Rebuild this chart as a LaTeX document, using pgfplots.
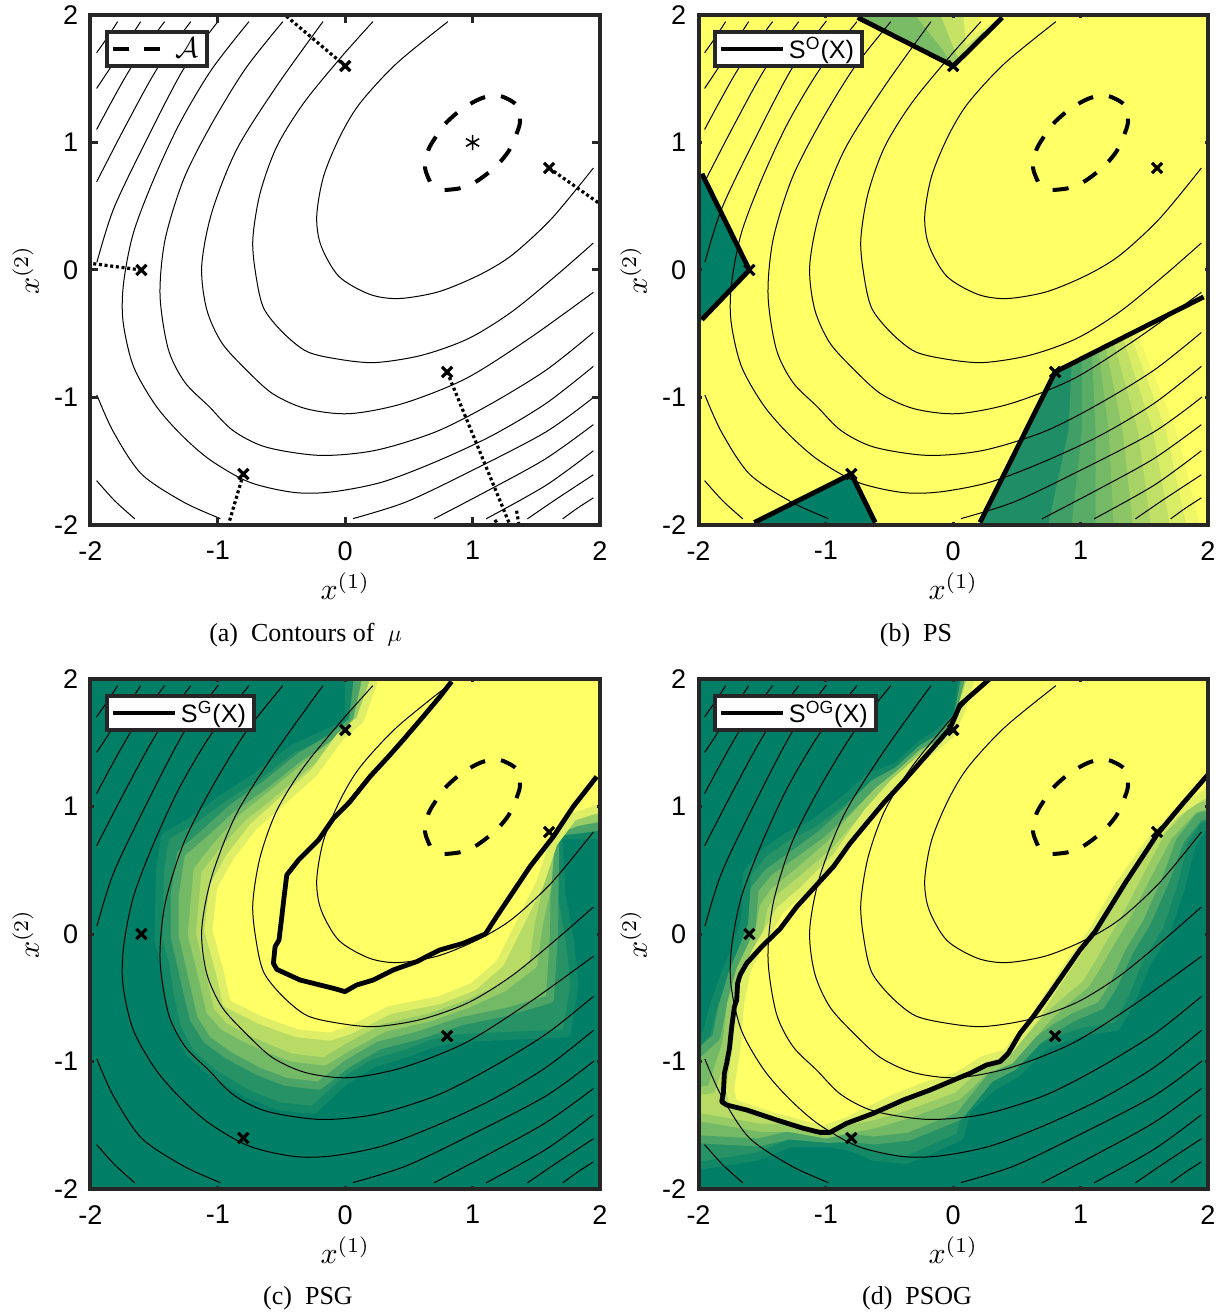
\documentclass[border=0pt]{standalone}
\usepackage[no-math]{fontspec}
\setmainfont{Liberation Serif}
\newfontfamily\helv{Liberation Sans}
\usepackage{pgfplots}
\pgfplotsset{compat=1.18}

\definecolor{gr}{HTML}{007F66}
\definecolor{yl}{HTML}{FFFF66}
\definecolor{frame}{HTML}{262626}

\pgfplotsset{
  panel/.style={
    scale only axis, width=254.75pt, height=255pt, anchor=south west,
    xmin=-2, xmax=2, ymin=-2, ymax=2,
    xtick={-2,-1,0,1,2}, ytick={-2,-1,0,1,2},
    xticklabels={-2,-1,0,1,2}, yticklabels={-2,-1,0,1,2},
    axis on top,
    tick align=inside,
    axis line style={line width=2pt, frame},
    tick style={line width=1.5pt, frame},
    major tick length=1.6pt,
    tick label style={font=\helv\fontsize{13.5}{16}\selectfont, inner sep=0pt},
    xticklabel shift=8pt, yticklabel shift=6pt,
    xlabel={$x^{(1)}$}, ylabel={$x^{(2)}$},
    xlabel style={at={(axis description cs:0.5,-0.092)}, anchor=north, scale=1.5, inner sep=0pt},
    ylabel style={at={(axis description cs:-0.1,0.5)}, anchor=south, scale=1.5, inner sep=0pt},
    legend style={at={(0.0284,0.9706)}, anchor=north west, fill=white, draw=frame,
      line width=2pt, inner xsep=2pt, inner ysep=0.5pt,
      font=\helv\fontsize{12.6}{14}\selectfont},
    legend cell align=left,
  },
  cont/.style={black, line width=0.5pt, smooth, tension=0.5},
  sline/.style={black, line width=2.4pt, line join=round},
  dotl/.style={black, line width=1.6pt, dash pattern=on 1.5pt off 1.35pt},
  hb/.style={fill=#1, draw=none},
  heat/.style 2 args={fill=#1, draw=#2, line width=4pt, line join=round},
  lgshort/.style={legend image code/.code={\draw[##1] (0pt,0pt) -- (23.5pt,0pt);}},
  lglong/.style={legend image code/.code={\draw[##1] (0pt,0pt) -- (31pt,0pt);}},
}

\newcommand{\lgstrut}{\rule[-3pt]{0pt}{13.5pt}}
\newcommand{\contours}{
  \addplot[cont] coordinates {(-1.952,1.704) (-1.87,1.82) (-1.787,1.948)};
  \addplot[cont] coordinates {(-1.952,1.424) (-1.795,1.66) (-1.606,1.948)};
  \addplot[cont] coordinates {(-1.952,1.102) (-1.69,1.574) (-1.418,1.948)};
  \addplot[cont] coordinates {(-1.952,0.691) (-1.73,1.12) (-1.48,1.574) (-1.213,1.948)};
  \addplot[cont] coordinates {(-1.95,0.06) (-1.82,0.476) (-1.58,0.98) (-1.271,1.574) (-0.996,1.953)};
  \addplot[cont] coordinates {(1.707,-1.952) (1.82,-1.87) (1.948,-1.787)};
  \addplot[cont] coordinates {(1.43,-1.952) (1.66,-1.795) (1.948,-1.606)};
  \addplot[cont] coordinates {(1.105,-1.952) (1.574,-1.69) (1.948,-1.418)};
  \addplot[cont] coordinates {(0.696,-1.952) (1.12,-1.73) (1.574,-1.48) (1.948,-1.213)};
  \addplot[cont] coordinates {(0.06,-1.95) (0.476,-1.82) (0.98,-1.58) (1.574,-1.271) (1.953,-0.996)};
  \addplot[cont] coordinates {(-1.952,-1.652) (-1.81,-1.81) (-1.652,-1.952)};
  \addplot[cont] coordinates {(-1.95,-0.98) (-1.82,-1.27) (-1.6,-1.6) (-1.27,-1.82) (-0.98,-1.95)};
  \addplot[cont] coordinates {(-0.756,1.948) (-1.048,1.574) (-1.3,1.15) (-1.506,0.706) (-1.664,0.288)
    (-1.74,-0.1) (-1.745,-0.4) (-1.664,-0.753) (-1.49,-1.06) (-1.29,-1.29) (-1.06,-1.49)
    (-0.753,-1.664) (-0.4,-1.745) (-0.1,-1.74) (0.288,-1.664) (0.706,-1.506) (1.15,-1.3)
    (1.574,-1.048) (1.948,-0.756)};
  \addplot[cont] coordinates {(-0.49,1.948) (-0.787,1.574) (-1.061,1.124) (-1.271,0.706) (-1.415,0.235)
    (-1.454,-0.2) (-1.389,-0.622) (-1.26,-0.88) (-1.07,-1.07) (-0.88,-1.26) (-0.622,-1.389)
    (-0.2,-1.454) (0.235,-1.415) (0.706,-1.271) (1.124,-1.061) (1.574,-0.787) (1.948,-0.49)};
  \addplot[cont] coordinates {(-0.175,1.948) (-0.538,1.443) (-0.852,0.946) (-1.048,0.45) (-1.127,0.03)
    (-1.088,-0.308) (-0.97,-0.57) (-0.78,-0.78) (-0.57,-0.97) (-0.308,-1.088) (0.03,-1.127)
    (0.45,-1.048) (0.946,-0.852) (1.443,-0.538) (1.948,-0.175)};
  \addplot[cont] coordinates {(0.217,1.948) (-0.04,1.66) (-0.328,1.307) (-0.538,0.967) (-0.669,0.6)
    (-0.726,0.235) (-0.70,-0.05) (-0.64,-0.3) (-0.49,-0.49) (-0.3,-0.64) (-0.05,-0.70)
    (0.235,-0.726) (0.6,-0.669) (0.967,-0.538) (1.307,-0.328) (1.66,-0.04) (1.948,0.212)};
  \addplot[cont] coordinates {(0.806,1.948) (0.403,1.62) (0.115,1.307) (-0.042,1.046) (-0.171,0.732)
    (-0.224,0.42) (-0.19,0.19) (-0.05,-0.05) (0.19,-0.19) (0.42,-0.224) (0.732,-0.171)
    (1.046,-0.042) (1.307,0.115) (1.62,0.403) (1.948,0.80)};
}
\newcommand{\ellipseA}{
  \addplot[black, line width=2pt, dash pattern=on 8.05pt off 8.05pt, smooth, tension=0.5] coordinates {
    (0.665,0.693) (0.626,0.803) (0.652,0.941) (0.712,1.046) (0.783,1.145) (0.874,1.229)
    (0.974,1.299) (1.084,1.352) (1.209,1.367) (1.345,1.294) (1.372,1.163) (1.338,1.051)
    (1.285,0.936) (1.207,0.837) (1.118,0.758) (1.013,0.685) (0.895,0.64) (0.777,0.627)};
}
\newcommand{\crosses}{
  \addplot[only marks, mark=x, mark size=3.6pt, mark options={black, line width=1.6pt}] coordinates {
    (0,1.6) (1.6,0.8) (-1.6,0) (0.8,-0.8) (-0.8,-1.6)};
}

\begin{document}
\begin{tikzpicture}
\path[use as bounding box] (0,0) rectangle (614.5pt,656.5pt);

% (a)
\begin{axis}[panel, at={(45.25pt,394pt)}, lgshort, major tick length=3.8pt]
  \addlegendimage{black, line width=2pt, dash pattern=on 8pt off 7.5pt}
  \addlegendentry{\lgstrut\hspace{5pt}\fontsize{14.4}{16}\selectfont$\mathcal{A}$}
  \contours
  \ellipseA
  \addplot[only marks, mark=asterisk, mark size=3.8pt, mark options={black, line width=0.8pt}] coordinates {(1,1)};
  \addplot[dotl] coordinates {(0,1.6) (-0.473,2)};
  \addplot[dotl] coordinates {(1.6,0.8) (2,0.518)};
  \addplot[dotl] coordinates {(-1.6,0) (-2,0.052)};
  \addplot[dotl] coordinates {(0.8,-0.8) (1.293,-2)};
  \addplot[dotl] coordinates {(-0.8,-1.6) (-0.918,-2)};
  \addplot[dotl] coordinates {(1.345,-1.888) (1.364,-2)};
  \addplot[dotl] coordinates {(1.175,-1.96) (1.2,-2)};
  \crosses
\end{axis}

% (b)
\begin{axis}[panel, at={(349.25pt,394pt)}, lglong]
  \addlegendimage{black, line width=2pt}
  \addlegendentry{\lgstrut S\textsuperscript{O}(X)}
  \addplot[hb=yl] coordinates {(-2,-2) (2,-2) (2,2) (-2,2)} -- cycle;
  \addplot[hb=gr] coordinates {(-2,0.8) (-1.6,0) (-2,-0.42)} -- cycle;
  \addplot[hb=gr] coordinates {(-1.6,-2) (-0.8,-1.6) (-0.6,-2)} -- cycle;
  % top wedge
  \addplot[hb=gr!52!yl] coordinates {(-0.78,2) (0,1.6) (0.4,2)} -- cycle;
  \addplot[hb=gr!38!yl] coordinates {(-0.3,2) (-0.1,1.75) (0,1.6) (0.4,2)} -- cycle;
  \addplot[hb=gr!22!yl] coordinates {(-0.1,2) (0.02,1.7) (0.05,1.65) (0.4,2)} -- cycle;
  \addplot[hb=gr!9!yl] coordinates {(0.08,2) (0.1,1.76) (0.4,2)} -- cycle;
  \addplot[hb=yl] coordinates {(0.2,2) (0.17,1.85) (0.4,2)} -- cycle;
  % lower right
  \addplot[hb=gr!88!yl] coordinates {(0.2,-2) (0.8,-0.8) (2,-0.2) (2,-2)} -- cycle;
  \addplot[hb=gr!75!yl] coordinates {(0.745,-2) (0.905,-1.26) (0.93,-0.734) (2,-0.2) (2,-2)} -- cycle;
  \addplot[hb=gr!65!yl] coordinates {(0.93,-2) (1.01,-1.26) (1.01,-0.694) (2,-0.2) (2,-2)} -- cycle;
  \addplot[hb=gr!55!yl] coordinates {(1.117,-2) (1.117,-1.26) (1.09,-0.654) (2,-0.2) (2,-2)} -- cycle;
  \addplot[hb=gr!45!yl] coordinates {(1.26,-2) (1.22,-1.26) (1.14,-0.628) (2,-0.2) (2,-2)} -- cycle;
  \addplot[hb=gr!35!yl] coordinates {(1.41,-2) (1.33,-1.26) (1.196,-0.60) (2,-0.2) (2,-2)} -- cycle;
  \addplot[hb=gr!25!yl] coordinates {(1.55,-2) (1.45,-1.26) (1.26,-0.568) (2,-0.2) (2,-2)} -- cycle;
  \addplot[hb=gr!15!yl] coordinates {(1.70,-2) (1.567,-1.26) (1.33,-0.532) (2,-0.2) (2,-2)} -- cycle;
  \addplot[hb=gr!6!yl] coordinates {(1.83,-2) (1.67,-1.26) (1.39,-0.50) (2,-0.2) (2,-2)} -- cycle;
  \addplot[hb=yl] coordinates {(1.94,-2) (1.753,-1.26) (1.435,-0.479) (2,-0.2) (2,-2)} -- cycle;
  \contours
  \ellipseA
  \addplot[sline] coordinates {(-0.75,1.98) (0,1.6) (0.385,1.98)};
  \addplot[sline] coordinates {(-1.973,0.755) (-1.6,0) (-1.973,-0.389)};
  \addplot[sline] coordinates {(-1.562,-1.98) (-0.8,-1.6) (-0.613,-1.98)};
  \addplot[sline] coordinates {(0.21,-1.98) (0.8,-0.8) (1.966,-0.211)};
  \crosses
\end{axis}

% (c)
\begin{axis}[panel, at={(45.25pt,62pt)}, lglong]
  \addlegendimage{black, line width=2pt}
  \addlegendentry{\lgstrut S\textsuperscript{G}(X)}
  \addplot[hb=gr] coordinates {(-2,-2) (2,-2) (2,2) (-2,2)} -- cycle;
  \addplot[heat={gr!85!yl}{gr!93!yl}] coordinates {(0.03,2.2) (0.03,1.66) (-0.145,1.574) (-0.407,1.456) (-0.695,1.234)
    (-0.983,1.051) (-1.192,0.894) (-1.415,0.763) (-1.454,0.502) (-1.467,-0.047) (-1.415,-0.23)
    (-1.376,-0.49) (-1.323,-0.727) (-1.219,-0.936) (-1.035,-1.093) (-0.774,-1.25) (-0.512,-1.354)
    (-0.25,-1.38) (0,-1.15) (0.22,-1.014) (0.482,-0.936) (0.69,-0.857) (0.874,-0.818) (1.738,-0.779)
    (1.8,-0.4) (1.764,-0.05) (1.70,0.3) (1.673,0.776) (2.2,0.776) (2.2,2.2)} -- cycle;
  \addplot[heat={gr!55!yl}{gr!70!yl}] coordinates {(0.12,2.2) (0.06,1.67) (-0.12,1.53) (-0.355,1.39) (-0.625,1.173)
    (-0.896,0.981) (-1.096,0.798) (-1.29,0.63) (-1.34,0.3) (-1.34,-0.02) (-1.245,-0.43)
    (-1.19,-0.665) (-1.086,-0.83) (-0.913,-0.954) (-0.683,-1.077) (-0.468,-1.16) (-0.206,-1.19)
    (0.013,-1.02) (0.263,-0.875) (0.569,-0.797) (0.918,-0.683) (1.27,-0.61) (1.607,-0.51)
    (1.64,0.01) (1.643,0.33) (1.65,0.80) (1.83,0.82) (2.2,0.87) (2.2,2.2)} -- cycle;
  \addplot[heat={gr!28!yl}{gr!41!yl}] coordinates {(0.21,2.2) (0.09,1.67) (-0.08,1.5) (-0.30,1.325) (-0.556,1.112)
    (-0.808,0.912) (-1.0,0.703) (-1.16,0.50) (-1.205,0.0) (-1.114,-0.37) (-1.06,-0.605)
    (-0.953,-0.725) (-0.791,-0.814) (-0.591,-0.903) (-0.424,-0.97) (-0.163,-1.0) (0.025,-0.885)
    (0.307,-0.735) (0.656,-0.657) (0.961,-0.548) (1.243,-0.42) (1.476,-0.24) (1.52,0.08)
    (1.586,0.365) (1.62,0.8) (1.81,0.875) (2.2,0.96) (2.2,2.2)} -- cycle;
  \addplot[heat={yl}{gr!13!yl}] coordinates {(0.3,2.2) (0.115,1.678) (-0.04,1.548) (-0.25,1.26) (-0.486,1.051)
    (-0.721,0.842) (-0.904,0.607) (-1.035,0.371) (-1.075,0.031) (-0.983,-0.308) (-0.93,-0.544)
    (-0.669,-0.675) (-0.38,-0.779) (-0.119,-0.805) (0.038,-0.753) (0.35,-0.596) (0.743,-0.518)
    (1.005,-0.413) (1.215,-0.23) (1.345,0.03) (1.529,0.397) (1.633,0.711) (1.79,0.92) (2.2,1.05)
    (2.2,2.2)} -- cycle;
  \contours
  \ellipseA
  \addplot[sline] coordinates {(0.835,1.98) (0.743,1.861) (0.612,1.705) (0.455,1.522) (0.338,1.39)
    (0.194,1.234) (0.037,1.038) (-0.093,0.907) (-0.21,0.737) (-0.367,0.58) (-0.459,0.463)
    (-0.48,0.293) (-0.498,0.136) (-0.52,-0.047) (-0.551,-0.1) (-0.564,-0.23) (-0.538,-0.277)
    (-0.355,-0.361) (-0.093,-0.426) (-0.002,-0.452) (0.089,-0.4) (0.22,-0.361) (0.377,-0.282)
    (0.56,-0.217) (0.743,-0.125) (0.926,-0.073) (1.1,0) (1.188,0.136) (1.293,0.293) (1.45,0.528)
    (1.633,0.763) (1.79,0.999) (1.974,1.234)};
  \crosses
\end{axis}

% (d)
\begin{axis}[panel, at={(349.25pt,62pt)}, lglong]
  \addlegendimage{black, line width=2pt}
  \addlegendentry{\lgstrut S\textsuperscript{OG}(X)}
  \addplot[hb=gr] coordinates {(-2,-2) (2,-2) (2,2) (-2,2)} -- cycle;
  \addplot[heat={gr!85!yl}{gr!93!yl}] coordinates {(0.1,2.2) (0.03,1.72) (0,1.68) (-0.117,1.574) (-0.26,1.482)
    (-0.444,1.312) (-0.653,1.234) (-0.889,1.025) (-1.098,0.868) (-1.308,0.763) (-1.49,0.633)
    (-1.62,0.476) (-1.635,0.11) (-1.70,-0.1) (-1.79,-0.31) (-1.883,-0.57) (-1.936,-0.78) (-2.2,-1.05)
    (-2.2,-1.85) (-1.543,-1.746) (-1.281,-1.642) (-0.967,-1.642) (-0.81,-1.668) (-0.627,-1.746)
    (-0.365,-1.773) (0.053,-1.59) (0.105,-1.38) (0.314,-1.197) (0.498,-1.093) (0.707,-0.884)
    (0.864,-0.818) (1.021,-0.766) (1.283,-0.727) (1.388,-0.544) (1.518,-0.23) (1.676,0.03)
    (1.79,0.37) (1.87,0.70) (1.97,0.85) (2.2,0.85) (2.2,2.2)} -- cycle;
  \addplot[heat={gr!55!yl}{gr!70!yl}] coordinates {(0.13,2.2) (0.03,1.68) (-0.12,1.53) (-0.25,1.45) (-0.436,1.28)
    (-0.62,1.18) (-0.84,0.96) (-1.04,0.78) (-1.26,0.62) (-1.45,0.485) (-1.56,0.35) (-1.58,0.07)
    (-1.65,-0.11) (-1.73,-0.30) (-1.81,-0.56) (-1.86,-0.81) (-2.2,-1.12) (-2.2,-1.6) (-1.53,-1.635)
    (-1.29,-1.58) (-0.985,-1.607) (-0.81,-1.6) (-0.62,-1.62) (-0.35,-1.59) (0.045,-1.43)
    (0.29,-1.13) (0.47,-1.04) (0.67,-0.83) (0.81,-0.73) (0.95,-0.65) (1.16,-0.56) (1.26,-0.4)
    (1.38,-0.14) (1.52,0.09) (1.67,0.43) (1.78,0.73) (1.93,0.92) (2.2,0.97) (2.2,2.2)} -- cycle;
  \addplot[heat={gr!28!yl}{gr!41!yl}] coordinates {(0.17,2.2) (0.04,1.65) (-0.08,1.5) (-0.24,1.42) (-0.428,1.25)
    (-0.585,1.125) (-0.795,0.90) (-0.975,0.695) (-1.22,0.485) (-1.405,0.335) (-1.49,0.21) (-1.52,0.04)
    (-1.595,-0.12) (-1.675,-0.29) (-1.745,-0.55) (-1.78,-0.85) (-1.9,-1.22) (-2.2,-1.25) (-2.2,-1.4)
    (-1.515,-1.52) (-1.295,-1.52) (-1.0,-1.572) (-0.81,-1.53) (-0.61,-1.49) (-0.34,-1.41)
    (0.036,-1.27) (0.26,-1.06) (0.445,-0.99) (0.635,-0.775) (0.755,-0.64) (0.875,-0.53) (1.04,-0.395)
    (1.13,-0.25) (1.24,-0.06) (1.36,0.14) (1.54,0.49) (1.69,0.77) (1.89,0.98) (2.2,1.08) (2.2,2.2)} -- cycle;
  \addplot[heat={yl}{gr!13!yl}] coordinates {(0.2,2.2) (0.06,1.75) (-0.025,1.56) (-0.234,1.39) (-0.47,1.182)
    (-0.68,0.946) (-0.915,0.607) (-1.176,0.345) (-1.36,0.188) (-1.465,0.005) (-1.543,-0.125)
    (-1.62,-0.282) (-1.674,-0.544) (-1.70,-0.884) (-1.753,-1.224) (-1.726,-1.328) (-1.412,-1.433)
    (-1.02,-1.537) (-0.81,-1.459) (-0.496,-1.302) (-0.234,-1.197) (0.028,-1.119) (0.236,-0.988)
    (0.419,-0.936) (0.628,-0.675) (0.76,-0.465) (0.916,-0.23) (1.1,0.03) (1.3,0.38) (1.55,0.73)
    (1.75,0.95) (2.2,1.25) (2.2,2.2)} -- cycle;
  \contours
  \ellipseA
  \addplot[sline] coordinates {(0.285,2) (0.053,1.796) (-0.025,1.613) (-0.392,1.195) (-0.549,1.025)
    (-0.68,0.868) (-0.81,0.711) (-0.941,0.528) (-1.085,0.371) (-1.229,0.214) (-1.36,0.04) (-1.504,-0.1)
    (-1.622,-0.23) (-1.674,-0.322) (-1.693,-0.387) (-1.70,-0.518) (-1.718,-0.57) (-1.739,-0.727)
    (-1.757,-0.897) (-1.779,-1.014) (-1.797,-1.093) (-1.805,-1.25) (-1.818,-1.315) (-1.779,-1.341)
    (-1.622,-1.38) (-1.386,-1.459) (-1.177,-1.524) (-1.046,-1.556) (-0.968,-1.556) (-0.837,-1.485)
    (-0.628,-1.407) (-0.392,-1.302) (-0.183,-1.224) (0.04,-1.13) (0.131,-1.093) (0.262,-1.027)
    (0.367,-1.001) (0.432,-0.936) (0.524,-0.779) (0.628,-0.648) (0.759,-0.465) (0.877,-0.295)
    (0.995,-0.125) (1.113,0.018) (1.35,0.40) (1.6,0.78) (1.8,1.02) (2,1.25)};
  \crosses
\end{axis}

\node[font=\fontsize{13}{15}\selectfont] at (152.75pt,339pt) {(a)\ \ Contours of\ \ $\mu$};
\node[font=\fontsize{13}{15}\selectfont] at (458pt,339pt) {(b)\ \ PS};
\node[font=\fontsize{13}{15}\selectfont] at (154pt,7.5pt) {(c)\ \ PSG};
\node[font=\fontsize{13}{15}\selectfont] at (458.5pt,7.5pt) {(d)\ \ PSOG};
\end{tikzpicture}
\end{document}
